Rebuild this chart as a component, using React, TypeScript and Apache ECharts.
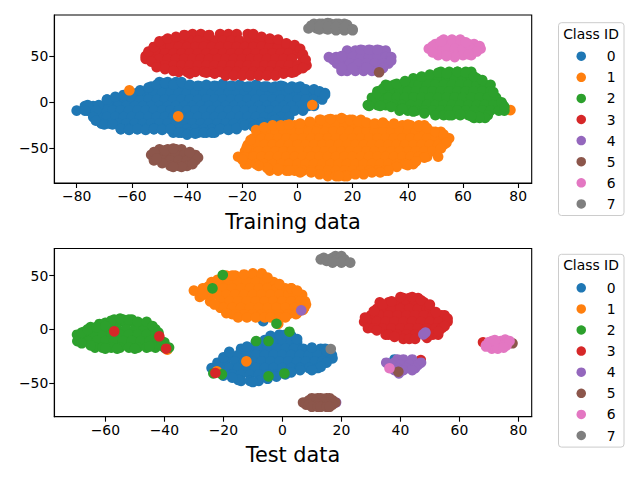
import * as echarts from "echarts";
import { useEffect, useRef } from "react";

const classIds = ["0", "1", "2", "3", "4", "5", "6", "7"];
const classColors = ["#1f77b4", "#ff7f0e", "#2ca02c", "#d62728", "#9467bd", "#8c564b", "#e377c2", "#7f7f7f"];

const trainXTicks = [-80, -60, -40, -20, 0, 20, 40, 60, 80];
const trainYTicks = [-50, 0, 50];
const testXTicks = [-60, -40, -20, 0, 20, 40, 60, 80];
const testYTicks = [-50, 0, 50];

// every row: y first, then the x values at that y
const train0 = [
  [22, -50, -47, -44],
  [17, -53, -50, -47, -44, -41, -38, -35, -32, -29, -26, -23, -20, -17, -14, -11, -8, -5, -2, 1],
  [10, -61, -58, -55, -52, -49, -46, -43, -40, -37, -34, -31, -28, -25, -22, -19, -16, -13, -10, -7, -4, -1, 2, 5, 8, 10],
  [3, -69, -66, -63, -60, -57, -54, -51, -48, -45, -42, -39, -36, -33, -30, -27, -24, -21, -18, -15, -12, -9, -6, -3, 0, 3, 6, 9],
  [-4, -77, -74, -71, -68, -65, -62, -59, -56, -53, -50, -47, -44, -41, -38, -35, -32, -29, -26, -23, -20, -17, -14, -11, -8, -5, -2, 1, 4, 6],
  [-9, -80, -76, -73, -70, -67, -64, -61, -58, -55, -52, -49, -46, -43, -40, -37, -34, -31, -28, -25, -22, -19, -16, -13, -10, -7, -4, -1, 2],
  [-16, -72, -69, -66, -63, -60, -57, -54, -51, -48, -45, -42, -39, -36, -33, -30, -27, -24, -21, -18, -15, -12, -9, -6, -3],
  [-23, -71, -68, -65, -62, -59, -56, -53, -50, -47, -44, -41, -38, -35, -32, -29, -26, -23, -20, -17, -14, -11],
  [-29, -64, -61, -58, -55, -52, -49, -46, -43, -40, -37, -34, -31, -28, -25, -22],
  [-33, -45, -42, -39, -36, -33, -30],
];
const train0Edge = [
  [-76, -3], [-72, -3], [-69, 3], [-66, 6], [-63, 8], [-60, 10], [-57, 13], [-54, 16], [-51, 19], [-48, 21], [-45, 19], [-42, 22],
  [-39, 19], [-36, 18], [-33, 19], [-30, 18], [-27, 20], [-24, 18], [-21, 19], [-18, 17], [-15, 19], [-12, 17], [-9, 16], [-6, 18],
  [-3, 15], [0, 16], [3, 14], [6, 14], [8, 12], [10, 8], [-77, -9], [-73, -9], [-74, -16], [-73, -20], [-70, -24], [-67, -24],
  [-64, -29], [-61, -30], [-58, -29], [-55, -30], [-52, -29], [-49, -30], [-46, -29], [-43, -33], [-40, -35], [-37, -34], [-34, -33],
  [-31, -33], [-28, -29], [-25, -30], [-22, -28], [-19, -25], [-16, -26], [-13, -22], [-8, -19],
];
const train1 = [
  [13, -60.9],
  [-15.2, -43.2],
  [-2.9, 5.4],
  [-8.4, 77.2],
  [-19, 8, 11, 14, 17, 20, 23],
  [-25, -4, -1, 2, 5, 8, 11, 14, 17, 20, 23, 26, 29, 32, 35, 38, 41, 44, 46],
  [-32, -14, -11, -8, -5, -2, 1, 4, 7, 10, 13, 16, 19, 22, 25, 28, 31, 34, 37, 40, 43, 46, 49, 52],
  [-39, -16, -13, -10, -7, -4, -1, 2, 5, 8, 11, 14, 17, 20, 23, 26, 29, 32, 35, 38, 41, 44, 47, 50, 53, 55],
  [-46, -18, -15, -12, -9, -6, -3, 0, 3, 6, 9, 12, 15, 18, 21, 24, 27, 30, 33, 36, 39, 42, 45, 48, 51, 53],
  [-53, -19, -17, -14, -11, -8, -5, -2, 1, 4, 7, 10, 13, 16, 19, 22, 25, 28, 31, 34, 37, 40, 43, 46, 49],
  [-59, -21.5, -19, -16, -13, -10, -7, -4, -1, 2, 5, 8, 11, 14, 17, 20, 23, 26, 29, 32, 35, 38, 41, 44, 47, 51],
  [-67, -19, -18, -15, -12, -9, -6, -3, 0, 3, 6, 9, 12, 15, 18, 21, 24, 27, 30, 33, 36, 39, 42],
  [-74, -10, -7, -4, -1, 2, 5, 8, 11, 14, 17, 20, 23, 26, 29, 32],
  [-80, 11, 14, 17, 18],
];
const train1Edge = [
  [-18.4, -49], [-17, -41], [-15, -30], [-12, -27], [-9, -25], [-6, -25], [-3, -24], [1, -23], [4.5, -21], [8.5, -19], [12, -18],
  [16, -17], [19, -19], [22, -21], [25, -22], [28, -23], [31, -22], [35, -23], [40, -24], [44, -26], [47, -28], [50, -32], [53, -35],
  [54, -44], [52, -50], [46, -60], [43, -64], [40, -68], [36, -70], [33, -74], [30, -76], [27, -76], [24, -78], [21, -78], [15, -80],
  [8, -78], [5, -76], [1, -76], [-3, -74], [-7, -72], [-11, -71], [-14, -69], [-20, -62],
];
const train2 = [
  [33, 52, 55, 58, 61, 63],
  [26, 42, 45, 48, 51, 54, 57, 60, 63, 65],
  [19, 32, 35, 38, 41, 44, 47, 50, 53, 56, 59, 62, 65, 68, 70],
  [12, 29, 31, 34, 37, 40, 43, 46, 49, 52, 55, 58, 61, 64, 67, 70],
  [5, 27, 30, 33, 36, 39, 42, 45, 48, 51, 54, 57, 60, 63, 66, 69, 72],
  [-3, 25.5, 29, 32, 35, 38, 41, 44, 47, 50, 53, 56, 59, 62, 65, 68, 71, 74.5],
  [-9, 37, 40, 43, 46, 49, 52, 55, 58, 61, 64, 67, 70, 73, 75],
  [-14, 50, 53, 56, 59, 62, 65, 69],
  [-17, 64, 66, 68],
];
const train2Edge = [
  [29, 10], [31, 15], [33, 18], [36, 20], [39, 23], [45, 28], [48, 30], [51, 32], [54, 31], [58, 33], [61, 32], [64, 28], [67, 24],
  [71, 11], [74, 0], [75, -5], [66, -16], [63, -15], [59, -13], [55, -14], [46, -12], [42, -10], [38, -7], [34, -5], [30, -4], [26, -4],
];
const train3 = [
  [74, -38, -35, -28, -25, -22, -18],
  [67, -48, -45, -42, -39, -36, -33, -30, -27, -24, -21, -18, -15, -12, -9],
  [60, -52, -49, -46, -43, -40, -37, -34, -31, -28, -25, -22, -19, -16, -13, -10, -7, -4, -2],
  [53, -54, -51, -48, -45, -42, -39, -36, -33, -30, -27, -24, -21, -18, -15, -12, -9, -6, -3, 0, 1],
  [47, -55, -53, -50, -47, -44, -41, -38, -35, -32, -29, -26, -23, -20, -17, -14, -11, -8, -5, -2, 2],
  [40, -51, -48, -45, -42, -39, -36, -33, -30, -27, -24, -21, -18, -15, -12, -9, -6, -3, 0, 3.3],
  [33, -43, -40, -37, -34, -31, -28, -25, -22, -19, -16, -13, -10, -7, -4, -1],
  [29, -26, -23, -20, -17, -14, -11, -8],
];
const train3Edge = [
  [-55, 50], [-54, 55], [-52, 60], [-50, 66], [-47, 69], [-44, 71], [-41, 73], [-32, 73], [-16, 74], [-13, 71], [-10, 69], [-7, 68],
  [-4, 64], [-1, 62], [1, 58], [2, 52], [3, 46], [-53, 44], [-51, 38], [-48, 36], [-45, 34], [-39, 31], [-33, 32], [-30, 31], [-5, 31],
  [-2, 32], [0, 35], [2, 37],
];
const train4 = [
  [56, 18, 21, 24, 27, 30, 32],
  [49, 11.4, 14, 17, 20, 23, 26, 29, 32, 34],
  [42, 14.3, 16, 19, 22, 25, 28, 31, 33],
  [34, 16, 18, 21, 24, 27, 29],
];
const train4Edge = [[13, 46], [15, 44], [15, 47], [16, 50], [23, 57], [26, 57], [29, 57], [34, 45], [31, 37], [16, 37], [20, 37], [25, 38]];
const train5 = [
  [32.5, 29.6],
  [-51, -50, -47, -44, -42],
  [-57, -53, -50, -47, -44, -41, -38, -37],
  [-63, -52, -49, -46, -43, -40, -37],
  [-69, -46, -43, -40],
];
const train5Edge = [[-52, -54], [-48, -52], [-45, -50], [-39, -54], [-36, -60], [-38, -67], [-42, -70], [-45, -70], [-49, -66], [-51, -61]];
const train6 = [
  [68, 53, 56, 59],
  [63, 50, 53, 56, 59, 62, 64],
  [58, 47.6, 51, 54, 57, 60, 63, 66.4],
  [51, 51, 54, 57, 60, 63],
];
const train6Edge = [[49, 61], [52, 66], [61, 65], [66, 61], [65, 55], [62, 52], [57, 49], [54, 50], [49, 54]];
const train7 = [
  [85, 6, 9, 12, 15, 17],
  [80, 4, 7, 10, 13, 16, 19],
  [78, 14, 17, 20],
];
const train7Edge = [[5, 83], [8, 85], [11, 86], [14, 85], [18, 84], [11, 79], [8, 79], [8, 82], [11, 82], [14, 82], [17, 81], [20, 79]];

const test0 = [
  [7.5, -6.5],
  [12, 1],
  [9, -2],
  [-28, 38],
  [-6, -4, -1, 2, 3],
  [-12, -9, -6, -3, 0, 3, 5],
  [-18, -14, -11, -8, -5, -2, 1, 4, 7, 10, 13, 14.5],
  [-24, -17.7, -15, -12, -9, -6, -3, 0, 3, 6, 9, 12, 15, 16.8],
  [-30, -19.4, -16, -13, -10, -7, -4, -1, 2, 5, 8, 11, 13.5],
  [-36, -24, -21, -18, -15, -12, -9, -6, -3, 0, 3, 6, 9, 12],
  [-42, -18, -17, -14, -11, -8, -5, -2, 1],
  [-48, -14, -11, -8],
];
const test0Edge = [
  [-22, -31], [-20, -26], [-18, -21], [-12, -16], [-6, -10], [-1, -5], [1, -5], [5, -9], [10, -17], [15, -20], [17, -27], [15, -31], [13, -35],
  [10, -38], [6, -38], [3, -40], [-2, -44], [-5, -46], [-10, -49], [-15, -47], [-17, -45], [-20, -43], [-22, -39],
];
const test1 = [
  [5, -1.4],
  [-19, -39],
  [-29.8, -12.2],
  [-39, -22.2],
  [52, -10, -7],
  [50, -19, -16, -13, -10, -7],
  [44, -24, -21, -18, -15, -12, -9, -6, -3],
  [38, -26, -23, -20, -17, -14, -11, -8, -5, -2, 1, 3],
  [36, -30],
  [32, -27, -25, -22, -19, -16, -13, -10, -7, -4, -1, 2, 5, 6.7],
  [26, -24.5, -21, -18, -15, -12, -9, -6, -3, 0, 3, 6, 7.7],
  [20, -21, -20, -17, -14, -11, -8, -5, -2, 1, 4, 7.4],
  [14, -17, -16, -13, -10, -7, -4, -1, 2, 4.6],
  [11, -15, -12, -9, -6, -4, -1, 1],
];
const test1Edge = [
  [-27, 38], [-25, 40], [-22, 46], [-17, 50], [-13, 51], [-5, 48], [-1, 42], [3, 38], [5, 36], [8, 23], [7, 18], [5, 15], [-19, 15], [-23, 23],
  [-28, 30], [-27, 33],
];
const test2 = [
  [50.5, -20.2],
  [38, -23.7],
  [5.2, -2],
  [-2.2, 2.4],
  [-10.9, -8.9, -4.7],
  [-41, -23.4, 0.7],
  [-41.9, -20.5],
  [-43.7, -4.7],
  [9, -57, -54, -51],
  [5, -62, -59, -56, -53, -50, -47.5],
  [0, -64.5, -62, -59, -56, -53, -50, -47, -44, -43],
  [-5, -69.6, -67, -64, -61, -58, -55, -52, -49, -46, -43, -42],
  [-11, -69.5, -66, -63, -60, -57, -54, -51, -48, -45, -42, -41],
  [-17, -63.5, -61, -58, -55, -52, -49, -46, -43, -40, -38.4],
];
const test2Edge = [
  [-67, -2], [-65, 2], [-60, 6], [-58, 8], [-55, 10], [-52, 9], [-49, 7], [-46, 7], [-44, 3], [-42, -3], [-40, -12], [-41, -15], [-45, -16],
  [-50, -18], [-56, -18], [-60, -18], [-65, -15], [-68, -13], [-68, -3], [-66, 0], [-63, 2], [-60, 3],
];
const test3 = [
  [-1.9, -57],
  [-6.5, -41.7],
  [-18, -39.4],
  [-40.6, -22.7],
  [-28.5, 46.9],
  [-12, 68],
  [29, 41, 43, 46],
  [25, 33, 36, 39, 42, 45, 48],
  [19, 32, 34, 37, 40, 43, 46, 49, 50],
  [13, 30, 33, 36, 39, 42, 45, 48, 51, 54, 55],
  [7, 27.7, 29, 32, 35, 38, 41, 44, 47, 50, 53, 56],
  [1, 29, 31, 34, 37, 40, 43, 46, 49, 52, 54],
  [-5, 35, 36, 39, 42, 45, 48, 51, 52.8],
  [-9, 41, 43, 45],
];
const test3Edge = [
  [28, 11], [31, 17], [34, 23], [37, 26], [40, 30], [44, 30], [47, 27], [50, 23], [52, 16], [56, 10], [55, 3], [53, -2], [49, -8], [38, -7], [32, -1],
];
const test4 = [
  [17.6, 6.4],
  [-4.7, 47.8],
  [-3, 48.5],
  [-68, 18.2],
  [-28, 39, 41, 44],
  [-31, 35.2, 38, 41, 44, 47],
  [-33, 37, 40, 43, 46],
  [-36, 37, 39, 42, 45],
  [-38, 38, 41, 44],
  [-41, 39.5],
];
const test5 = [
  [-39.4, 39.3],
  [-13, 78],
  [-64, 10, 12, 13, 15, 16],
  [-66, 9, 10, 13, 16, 17],
  [-68, 7, 8, 11, 14, 17, 18],
  [-70, 8, 9, 12, 15, 17],
  [-72, 10, 12, 13, 15, 16],
];
const test6 = [
  [-36.2, 36.3],
  [-9.5, 75.5],
  [-11, 71, 74],
  [-12, 70, 73, 76],
  [-15, 69, 70, 72, 73, 75, 76],
  [-18, 71, 73],
];
const test6Edge = [[70, -12], [72, -10], [77, -11], [75, -17], [69, -16]];
const test7 = [
  [-18.3, 16.4],
  [68, 18, 20],
  [66.5, 14, 17, 20],
  [65, 13, 16, 19, 21],
  [63.5, 15, 18, 21],
  [62, 17, 20, 23],
];

const trainRows = [train0, train1, train2, train3, train4, train5, train6, train7];
const trainEdges = [train0Edge, train1Edge, train2Edge, train3Edge, train4Edge, train5Edge, train6Edge, train7Edge];
const testRows = [test0, test1, test2, test3, test4, test5, test6, test7];
const testEdges = [test0Edge, test1Edge, test2Edge, test3Edge, [], [], test6Edge, []];

const toPoints = (rows: number[][]) =>
  rows.flatMap(([y, ...xs]) => xs.map((x) => [x, y]));

const FONT = "DejaVu Sans";
const tickLabel = (v: number) => String(v).replace("-", "\u2212");

function makeAxis(ticks: number[], min: number, max: number, gridIndex: number, name?: string) {
  return {
    type: "value" as const,
    gridIndex,
    min,
    max,
    name,
    nameLocation: "middle" as const,
    nameGap: 28,
    nameTextStyle: { color: "#000", fontFamily: FONT, fontSize: 20.8 },
    splitLine: { show: false },
    axisLine: { onZero: false, lineStyle: { color: "#000", width: 1.1 } },
    axisTick: { length: 5, lineStyle: { color: "#000", width: 1.1 }, customValues: ticks },
    axisLabel: {
      color: "#000",
      fontFamily: FONT,
      fontSize: 13.9,
      margin: 6,
      formatter: tickLabel,
      customValues: ticks,
    },
  };
}

function makeLegend(top: number) {
  return {
    orient: "vertical" as const,
    left: 558.5,
    top,
    data: classIds,
    icon: "circle",
    selectedMode: false,
    itemWidth: 41,
    itemHeight: 9.5,
    itemGap: 7.1,
    padding: [26.5, 0, 0, 18],
    textStyle: { color: "#000", fontFamily: FONT, fontSize: 13.9 },
  };
}

function makeLegendFrame(top: number) {
  return [
    {
      type: "rect" as const,
      shape: { x: 558.5, y: top, width: 65.5, height: 192.8, r: 3 },
      style: { fill: "#fff", stroke: "#ccc", lineWidth: 1 },
      z: -1,
    },
    {
      type: "text" as const,
      x: 591,
      y: top + 11,
      style: {
        text: "Class ID",
        fill: "#000",
        font: `13.9px "${FONT}"`,
        textAlign: "center" as const,
        textVerticalAlign: "middle" as const,
      },
    },
  ];
}

function makeSeries(rowsByClass: number[][][], edgesByClass: number[][][], panel: number) {
  return rowsByClass.map((rows, i) => ({
    name: classIds[i],
    type: "scatter" as const,
    xAxisIndex: panel,
    yAxisIndex: panel,
    symbol: "circle",
    symbolSize: 10.6,
    itemStyle: { color: classColors[i], opacity: 1 },
    data: [...toPoints(rows), ...edgesByClass[i]],
  }));
}

export default function App() {
  const ref = useRef<HTMLDivElement | null>(null);

  useEffect(() => {
    if (!ref.current) return;

    const chart = echarts.init(ref.current, undefined, { renderer: "svg" });

    chart.setOption({
      animation: false,
      backgroundColor: "#fff",
      textStyle: { fontFamily: FONT },
      grid: [
        { left: 54.3, top: 15, width: 477.4, height: 168, show: true, borderColor: "#000", borderWidth: 1.1 },
        { left: 54.3, top: 248.5, width: 477.4, height: 168.2, show: true, borderColor: "#000", borderWidth: 1.1 },
      ],
      xAxis: [
        makeAxis(trainXTicks, -88.1, 84.9, 0, "Training data"),
        makeAxis(testXTicks, -77.3, 84.5, 1, "Test data"),
      ],
      yAxis: [
        makeAxis(trainYTicks, -87.4, 94.6, 0),
        makeAxis(testYTicks, -81.2, 75.1, 1),
      ],
      legend: [makeLegend(22.7), makeLegend(254.3)],
      graphic: [...makeLegendFrame(22.7), ...makeLegendFrame(254.3)],
      series: [...makeSeries(trainRows, trainEdges, 0), ...makeSeries(testRows, testEdges, 1)],
    });

    return () => {
      chart.dispose();
    };
  }, []);

  return <div ref={ref} style={{ position: "absolute", left: 0, top: 0, width: 640, height: 480 }} />;
}
